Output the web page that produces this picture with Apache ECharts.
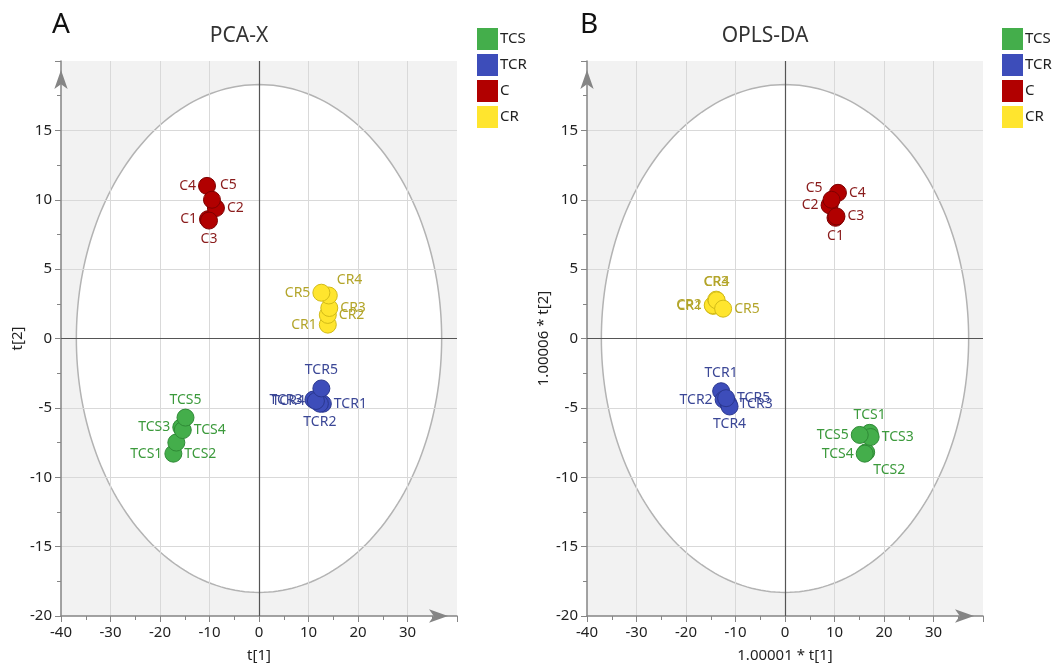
<!DOCTYPE html>
<html>
<head>
<meta charset="utf-8">
<script src="https://cdn.jsdelivr.net/npm/echarts@6/dist/echarts.min.js"></script>
<style>
html,body{margin:0;padding:0;background:#fff;}
#chart{width:1052px;height:668px;}
</style>
</head>
<body>
<div id="chart"></div>
<script>
// ---------- data ----------
const groups = ['TCS', 'TCR', 'C', 'CR'];
const xTickLabels = [-40, -30, -20, -10, 0, 10, 20, 30];
const yTickLabels = [-20, -15, -10, -5, 0, 5, 10, 15];

// PCA-X scores [t1, t2], samples 1..5
const pcaTCS = [[-17.3, -8.3], [-16.7, -7.5], [-15.7, -6.4], [-15.4, -6.6], [-14.85, -5.7]];
const pcaTCR = [[12.9, -4.7], [12.3, -4.7], [11.0, -4.4], [11.5, -4.5], [12.6, -3.6]];
const pcaC   = [[-10.3, 8.6], [-8.7, 9.4], [-10.1, 8.5], [-10.5, 11.0], [-9.5, 10.0]];
const pcaCR  = [[13.9, 1.0], [13.9, 1.7], [14.2, 2.2], [14.1, 3.1], [12.6, 3.3]];

// OPLS-DA scores
const oplsTCS = [[17.1, -6.8], [16.4, -8.2], [17.3, -7.1], [16.1, -8.3], [15.1, -6.95]];
const oplsTCR = [[-12.9, -3.8], [-12.4, -4.4], [-11.4, -4.7], [-11.2, -4.9], [-11.9, -4.3]];
const oplsC   = [[10.2, 8.7], [9.0, 9.6], [10.4, 8.8], [10.7, 10.5], [9.4, 10.0]];
const oplsCR  = [[-14.5, 2.35], [-14.6, 2.4], [-13.9, 2.8], [-13.8, 2.75], [-12.5, 2.15]];

// Hotelling T2 ellipse semi-axes (data units)
const pcaEllipse = [36.9, 18.3];
const oplsEllipse = [37.1, 18.3];

// label placement per sample
const pcaTCSPos = ['left', 'bottomRight', 'left', 'right', 'top'];
const pcaTCRPos = ['right', 'bottom', 'left', 'left', 'top'];
const pcaCPos   = ['left', 'right', 'bottom', 'left', 'topRight'];
const pcaCRPos  = ['left', 'right', 'right', 'topRight', 'left'];
const oplsTCSPos = ['top', 'bottomRightFar', 'right', 'left', 'left'];
const oplsTCRPos = ['top', 'left', 'right', 'bottom', 'right'];
const oplsCPos   = ['bottom', 'left', 'right', 'right', 'topLeft'];
const oplsCRPos  = ['left', 'left', 'top', 'top', 'right'];

// ---------- styles ----------
const FONT = 'Noto Sans';
const fillColor  = {TCS: '#44ae4b', TCR: '#3d4dba', C: '#b10000', CR: '#ffe52e'};
const borderColor = {TCS: '#2f8a36', TCR: '#2a378f', C: '#7e0000', CR: '#d2bb18'};
const labelColor = {TCS: '#3c9a3c', TCR: '#3b4796', C: '#8a1c1c', CR: '#b3a52a'};
const posMap = {
  left: {position: 'left'},
  right: {position: 'right'},
  top: {position: 'top'},
  bottom: {position: 'bottom'},
  topRight: {position: 'right', offset: [-3, -15]},
  topLeft: {position: 'left', offset: [2, -12]},
  bottomRight: {position: 'right', offset: [-3, 11]},
  bottomRightFar: {position: 'right', offset: [-4, 18]}
};

function makeScatter(group, pts, pos, gi) {
  return {
    type: 'scatter', name: group, xAxisIndex: gi, yAxisIndex: gi,
    symbol: 'circle', symbolSize: 17, z: 3,
    itemStyle: {color: fillColor[group], borderColor: borderColor[group], borderWidth: 1, opacity: 1},
    label: {show: true, formatter: '{b}', color: labelColor[group], fontFamily: FONT, fontSize: 14, distance: 2},
    data: pts.map((p, i) => ({
      name: group + (i + 1), value: p,
      label: Object.assign({}, posMap[pos[i]])
    }))
  };
}

function bgSeries(gi, ell) {
  return {
    type: 'custom', name: 'bg' + gi, xAxisIndex: gi, yAxisIndex: gi, z: -1, silent: true, clip: false,
    data: [[0, 0]],
    renderItem: function (params, api) {
      const cs = params.coordSys;
      const pts = [];
      for (let i = 0; i < 240; i++) {
        const t = i / 240 * 2 * Math.PI;
        pts.push(api.coord([ell[0] * Math.cos(t), ell[1] * Math.sin(t)]));
      }
      return {type: 'group', children: [
        {type: 'rect', shape: {x: cs.x, y: cs.y, width: cs.width, height: cs.height}, style: {fill: '#f2f2f2'}},
        {type: 'polygon', shape: {points: pts}, style: {fill: '#ffffff', stroke: '#b3b3b3', lineWidth: 1.5}}
      ]};
    },
    markLine: {
      silent: true, symbol: 'none', z: 1,
      label: {show: false},
      lineStyle: {color: '#555', width: 1.2, type: 'solid'},
      data: [{xAxis: 0}, {yAxis: 0}]
    }
  };
}

const axisGrey = '#858585';
function xAxis(gi, name) {
  return {
    type: 'value', gridIndex: gi, min: -40, max: 40, interval: 10,
    name: name, nameLocation: 'middle', nameGap: 32,
    nameTextStyle: {fontFamily: FONT, fontSize: 15, color: '#222'},
    axisLine: {show: true, onZero: false, symbol: ['none', 'arrow'], symbolSize: [10, 19], symbolOffset: [0, -9],
      lineStyle: {color: axisGrey, width: 1.5}},
    axisTick: {show: true, length: 6, lineStyle: {color: axisGrey}},
    minorTick: {show: true, splitNumber: 2, length: 4, lineStyle: {color: axisGrey}},
    axisLabel: {fontFamily: FONT, fontSize: 15, color: '#222', margin: 9, showMaxLabel: false,
      formatter: v => (xTickLabels.indexOf(v) >= 0 ? String(v) : '')},
    splitLine: {show: true, showMinLine: false, showMaxLine: false, lineStyle: {color: '#d9d9d9', width: 1}}
  };
}
function yAxis(gi, name) {
  return {
    type: 'value', gridIndex: gi, min: -20, max: 20, interval: 5,
    name: name, nameLocation: 'middle', nameGap: 36,
    nameTextStyle: {fontFamily: FONT, fontSize: 15, color: '#222'},
    axisLine: {show: true, onZero: false, symbol: ['none', 'arrow'], symbolSize: [10, 19], symbolOffset: [0, -9],
      lineStyle: {color: axisGrey, width: 1.5}},
    axisTick: {show: true, length: 6, lineStyle: {color: axisGrey}},
    minorTick: {show: true, splitNumber: 2, length: 4, lineStyle: {color: axisGrey}},
    axisLabel: {fontFamily: FONT, fontSize: 15, color: '#222', margin: 9, showMaxLabel: false,
      formatter: v => (yTickLabels.indexOf(v) >= 0 ? String(v) : '')},
    splitLine: {show: true, showMinLine: false, showMaxLine: false, lineStyle: {color: '#d9d9d9', width: 1}}
  };
}

function legend(left) {
  return {
    data: groups, orient: 'vertical', left: left, top: 23,
    icon: 'rect', itemWidth: 21, itemHeight: 22, itemGap: 4,
    itemStyle: {borderWidth: 0},
    textStyle: {fontFamily: FONT, fontSize: 15, color: '#222', padding: [0, 0, 0, -3]},
    selectedMode: false
  };
}

const chart = echarts.init(document.getElementById('chart'), null, {renderer: 'canvas'});
const option = {
  backgroundColor: '#ffffff',
  animation: false,
  grid: [
    {left: 61, top: 61, width: 396, bottom: 52},
    {left: 587, top: 61, width: 396, bottom: 52}
  ],
  xAxis: [xAxis(0, 't[1]'), xAxis(1, '1.00001 * t[1]')],
  yAxis: [yAxis(0, 't[2]'), yAxis(1, '1.00006 * t[2]')],
  legend: [legend(472), legend(997)],
  graphic: [
    {type: 'text', x: 61, y: 25, style: {text: 'A', fontFamily: FONT, fontSize: 28, fill: '#111', textAlign: 'center', textVerticalAlign: 'middle'}},
    {type: 'text', x: 239, y: 36, style: {text: 'PCA-X', fontFamily: FONT, fontSize: 21, fill: '#333', textAlign: 'center', textVerticalAlign: 'middle'}},
    {type: 'text', x: 589, y: 25, style: {text: 'B', fontFamily: FONT, fontSize: 28, fill: '#111', textAlign: 'center', textVerticalAlign: 'middle'}},
    {type: 'text', x: 765, y: 36, style: {text: 'OPLS-DA', fontFamily: FONT, fontSize: 21, fill: '#333', textAlign: 'center', textVerticalAlign: 'middle'}}
  ],
  series: [
    bgSeries(0, pcaEllipse),
    bgSeries(1, oplsEllipse),
    makeScatter('TCS', pcaTCS, pcaTCSPos, 0),
    makeScatter('TCR', pcaTCR, pcaTCRPos, 0),
    makeScatter('C', pcaC, pcaCPos, 0),
    makeScatter('CR', pcaCR, pcaCRPos, 0),
    makeScatter('TCS', oplsTCS, oplsTCSPos, 1),
    makeScatter('TCR', oplsTCR, oplsTCRPos, 1),
    makeScatter('C', oplsC, oplsCPos, 1),
    makeScatter('CR', oplsCR, oplsCRPos, 1)
  ]
};
chart.setOption(option);
</script>
</body>
</html>
